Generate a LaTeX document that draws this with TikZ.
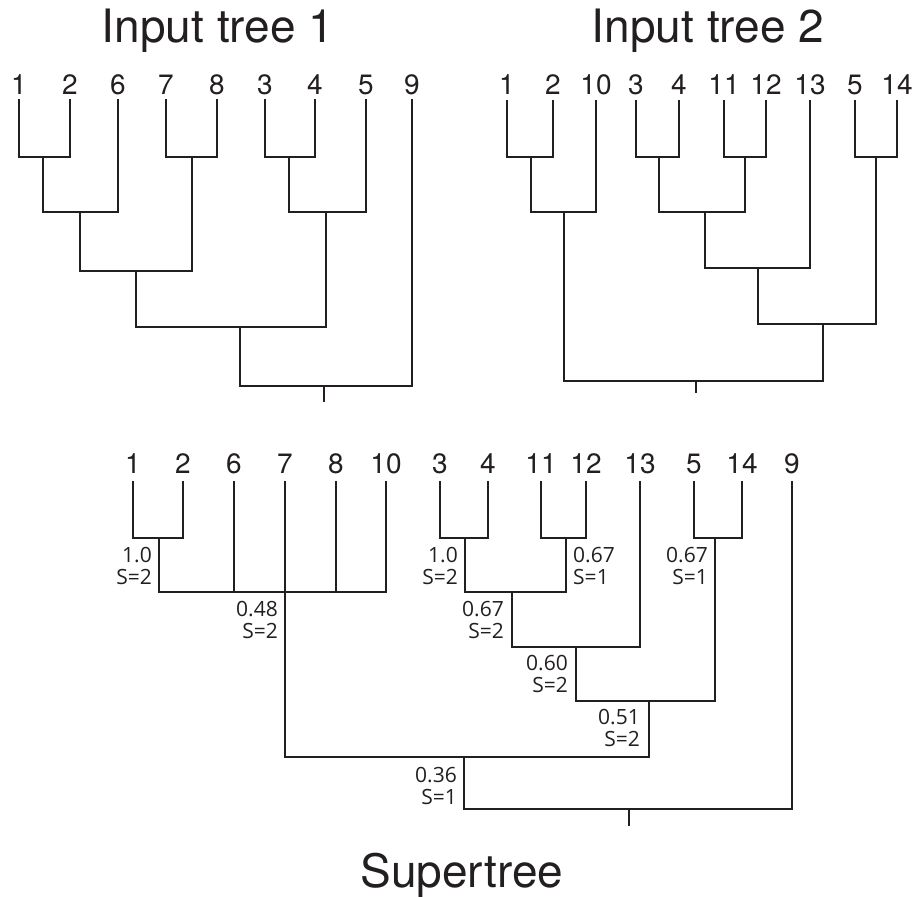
\documentclass[tikz,border=0pt]{standalone}
\usepackage{fontspec}
\setmainfont{TeX Gyre Heros}
\newfontfamily\labfont{Open Sans}
\definecolor{ink}{HTML}{231F20}
\newcommand\tipat[5]{\coordinate (#1) at (#2,#3); \node[tiplab] (#1l) at ([yshift=#4pt]#1) {#5};}
\begin{document}
\begin{tikzpicture}[x=1pt,y=-1pt,
  branch/.style={draw=ink, line width=2pt, line join=miter},
  tiplab/.style={font=\fontsize{28}{28}\selectfont, text=ink, inner sep=0pt, anchor=base},
  title/.style={font=\fontsize{46}{46}\selectfont, text=ink, inner sep=0pt, anchor=base},
  sup/.style={font=\labfont\fontsize{21}{22}\selectfont, text=ink, inner sep=0pt, align=right, anchor=east},
  supl/.style={font=\labfont\fontsize{21}{22}\selectfont, text=ink, inner sep=0pt, align=left, anchor=west}]
\path[use as bounding box] (0,0) rectangle (917,896);

% titles
\node[title] (t1) at (218,43) {Input tree 1};
\node[title] (t2) at (708,43) {Input tree 2};
\node[title] (t3) at (462,887) {Supertree};

% ---------- Input tree 1 ----------
\tipat{a1}{19}{99}{4}{1}
\tipat{a2}{70}{99}{4}{2}
\tipat{a6}{118}{99}{4}{6}
\tipat{a7}{166}{99}{4}{7}
\tipat{a8}{217}{99}{4}{8}
\tipat{a3}{265}{99}{4}{3}
\tipat{a4}{315}{99}{4}{4}
\tipat{a5}{366}{99}{4}{5}
\tipat{a9}{412}{99}{4}{9}
\coordinate (a12) at (43,157);
\coordinate (a126) at (80,212);
\coordinate (a78) at (192,157);
\coordinate (a12678) at (136,271);
\coordinate (a34) at (289,157);
\coordinate (a345) at (326,212);
\coordinate (aall) at (240,327);
\coordinate (aroot) at (324,386);
\coordinate (astub) at (324,402);
\draw[branch] (a12) -| (a1) (a12) -| (a2);
\draw[branch] (a126) -| (a12) (a126) -| (a6);
\draw[branch] (a78) -| (a7) (a78) -| (a8);
\draw[branch] (a12678) -| (a126) (a12678) -| (a78);
\draw[branch] (a34) -| (a3) (a34) -| (a4);
\draw[branch] (a345) -| (a34) (a345) -| (a5);
\draw[branch] (aall) -| (a12678) (aall) -| (a345);
\draw[branch] (aroot) -| (aall) (aroot) -| (a9);
\draw[branch] (aroot) -- (astub);

% ---------- Input tree 2 ----------
\tipat{b1}{507}{100}{5}{1}
\tipat{b2}{553}{100}{5}{2}
\tipat{b10}{596}{100}{5}{10}
\tipat{b3}{636}{100}{5}{3}
\tipat{b4}{679}{100}{5}{4}
\tipat{b11}{724}{100}{5}{11}
\tipat{b12}{766}{100}{5}{12}
\tipat{b13}{810}{100}{5}{13}
\tipat{b5}{855}{100}{5}{5}
\tipat{b14}{897}{100}{5}{14}
\coordinate (b12n) at (531,157);
\coordinate (b1210) at (564,212);
\coordinate (b34) at (659,157);
\coordinate (b1112) at (745,157);
\coordinate (b3412) at (705,212);
\coordinate (b13n) at (758,268);
\coordinate (b514) at (876,157);
\coordinate (bx) at (823,324);
\coordinate (broot) at (696,381);
\coordinate (bstub) at (696,393);
\draw[branch] (b12n) -| (b1) (b12n) -| (b2);
\draw[branch] (b1210) -| (b12n) (b1210) -| (b10);
\draw[branch] (b34) -| (b3) (b34) -| (b4);
\draw[branch] (b1112) -| (b11) (b1112) -| (b12);
\draw[branch] (b3412) -| (b34) (b3412) -| (b1112);
\draw[branch] (b13n) -| (b3412) (b13n) -| (b13);
\draw[branch] (b514) -| (b5) (b514) -| (b14);
\draw[branch] (bx) -| (b13n) (bx) -| (b514);
\draw[branch] (broot) -| (b1210) (broot) -| (bx);
\draw[branch] (broot) -- (bstub);

% ---------- Supertree ----------
\tipat{c1}{133}{481}{8}{1}
\tipat{c2}{183}{481}{8}{2}
\tipat{c6}{234}{481}{8}{6}
\tipat{c7}{285}{481}{8}{7}
\tipat{c8}{336}{481}{8}{8}
\tipat{c10}{386}{481}{8}{10}
\tipat{c3}{440}{481}{8}{3}
\tipat{c4}{488}{481}{8}{4}
\tipat{c11}{541}{481}{8}{11}
\tipat{c12}{586}{481}{8}{12}
\tipat{c13}{640}{481}{8}{13}
\tipat{c5}{694}{481}{8}{5}
\tipat{c14}{742}{481}{8}{14}
\tipat{c9}{792}{481}{8}{9}
\coordinate (c12n) at (159,538);
\coordinate (cp) at (285,592);
\coordinate (c34) at (465,538);
\coordinate (c1112) at (566,538);
\coordinate (c3412) at (512,592);
\coordinate (c13n) at (576,647);
\coordinate (c514) at (715,538);
\coordinate (cx) at (649,701);
\coordinate (cy) at (464,757);
\coordinate (croot) at (629,809);
\coordinate (cstub) at (629,826);
\draw[branch] (c12n) -| (c1) (c12n) -| (c2);
\draw[branch] (cp) -| (c12n) (cp) -| (c6) (cp) -- (c7) (cp) -| (c8) (cp) -| (c10);
\draw[branch] (c34) -| (c3) (c34) -| (c4);
\draw[branch] (c1112) -| (c11) (c1112) -| (c12);
\draw[branch] (c3412) -| (c34) (c3412) -| (c1112);
\draw[branch] (c13n) -| (c3412) (c13n) -| (c13);
\draw[branch] (c514) -| (c5) (c514) -| (c14);
\draw[branch] (cx) -| (c13n) (cx) -| (c514);
\draw[branch] (cy) -| (cp) (cy) -| (cx);
\draw[branch] (croot) -| (cy) (croot) -| (c9);
\draw[branch] (croot) -- (cstub);

% support labels
\node[sup] (l12) at (152,566) {1.0\\S=2};
\node[sup] (lp) at (278,620) {0.48\\S=2};
\node[sup] (l34) at (458,566) {1.0\\S=2};
\node[sup] (l3412) at (504,620) {0.67\\S=2};
\node[supl] (l1112) at (573,566) {0.67\\S=1};
\node[sup] (l514) at (708,566) {0.67\\S=1};
\node[sup] (l13) at (568,674) {0.60\\S=2};
\node[sup] (lx) at (640,728) {0.51\\S=2};
\node[sup] (ly) at (457,786) {0.36\\S=1};
\end{tikzpicture}
\end{document}
